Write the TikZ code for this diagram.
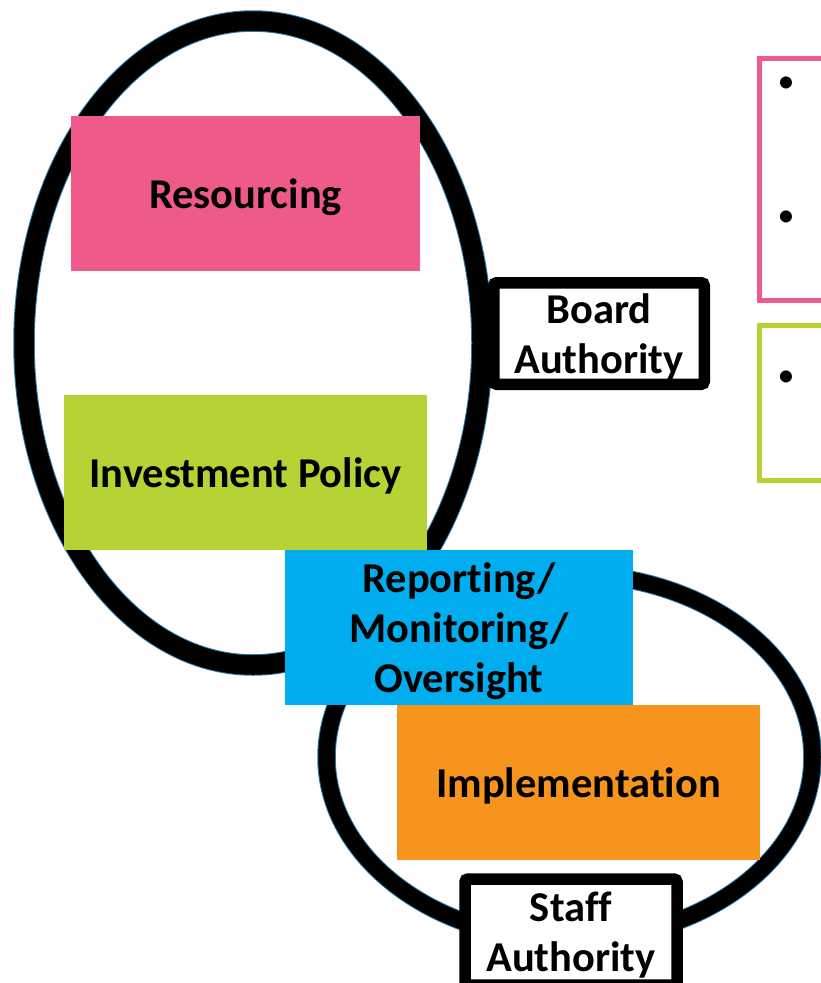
\documentclass[tikz,border=0pt]{standalone}
\usepackage{fontspec}
\setmainfont{Carlito}[Ligatures=NoCommon]
\definecolor{cpink}{RGB}{239,91,137}
\definecolor{cgreen}{RGB}{181,211,52}
\definecolor{cblue}{RGB}{0,174,239}
\definecolor{corange}{RGB}{247,148,29}
\definecolor{fringe}{RGB}{40,120,170}
\newcommand{\lowtext}[1]{\raisebox{-4.5pt}[\height][\depth]{\begin{tabular}{@{}c@{}}#1\end{tabular}}}
\tikzset{
  bigfont/.style={font=\fontsize{42.5}{50}\selectfont\bfseries, text=black},
  fillbox/.style={bigfont, rectangle, inner sep=0pt, draw=none},
  authbox/.style={bigfont, rectangle, draw=black, fill=white, line width=11.5pt, rounded corners=3pt, inner sep=0pt},
  ringfringe/.style={draw=fringe, line width=21.5pt},
  outlinebox/.style={draw=#1, line width=5.5pt, fill=white},
  bulletmark/.style={font=\fontsize{34}{40}\selectfont, text=black, inner sep=0pt}
}
\begin{document}
\begin{tikzpicture}[x=1pt,y=-1pt]
\useasboundingbox (0,0) rectangle (821,983);
\clip (0,0) rectangle (821,983);
\fill[white] (0,0) rectangle (821,983);
% rings
\draw[ringfringe] (253,343) ellipse [x radius=229pt, y radius=322pt];
\draw[black, line width=19.5pt] (253,343) ellipse [x radius=229pt, y radius=322pt];
\draw[ringfringe, line width=18.5pt] (569.5,757) ellipse [x radius=243pt, y radius=183pt];
\draw[black, line width=16.5pt] (569.5,757) ellipse [x radius=243pt, y radius=183pt];
% right outline boxes
\draw[outlinebox=cpink] (759.7,58.7) rectangle (840,300.3);
\draw[outlinebox=cgreen] (759.7,325.7) rectangle (840,480.3);
\node[bulletmark] (b1) at (786,85) {•};
\node[bulletmark] (b2) at (786,219) {•};
\node[bulletmark] (b3) at (786,379) {•};
% coloured boxes
\node[fillbox, fill=cpink, minimum width=349pt, minimum height=155pt] (res) at (245.5,193.5) {\lowtext{Resourcing}};
\node[fillbox, fill=cgreen, minimum width=363pt, minimum height=155pt] (inv) at (245.5,472.5) {\lowtext{Investment Policy}};
\node[fillbox, fill=cblue, minimum width=348pt, minimum height=155pt] (rep) at (459,627.5) {\lowtext{Reporting/\\Monitoring/\\Oversight}};
\node[fillbox, fill=corange, minimum width=363pt, minimum height=155pt] (imp) at (578.5,782.5) {\lowtext{Implementation}};
% authority boxes
\node[authbox, minimum width=210.5pt, minimum height=101.5pt] (board) at (599,333.5) {\lowtext{Board\\Authority}};
\node[authbox, minimum width=212pt, minimum height=106pt] (staff) at (571,932) {\lowtext{Staff\\Authority}};
\end{tikzpicture}
\end{document}
